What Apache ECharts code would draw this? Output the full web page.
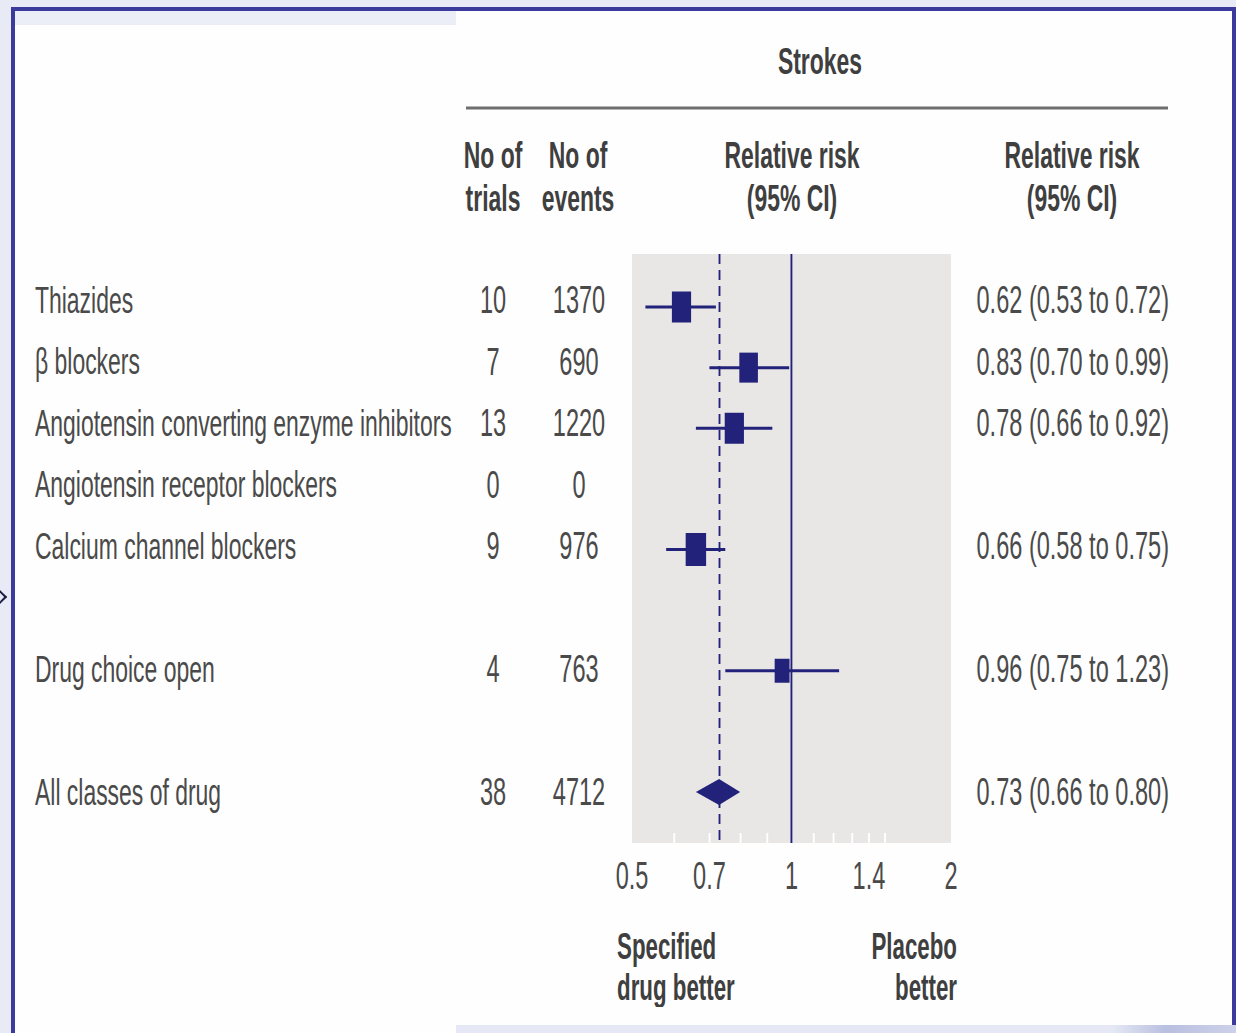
<!DOCTYPE html>
<html>
<head>
<meta charset="utf-8">
<title>Strokes – relative risk by drug class</title>
<script src="https://cdn.jsdelivr.net/npm/echarts@6/dist/echarts.min.js"></script>
<style>
  html, body { margin: 0; padding: 0; width: 1236px; height: 1033px; overflow: hidden; background: #e8eaf5; }
  #sheet { position: absolute; left: 15px; top: 11px; width: 1217px; height: 1022px; background: #fefefe; }
  #bandTop { position: absolute; left: 15px; top: 11px; width: 441px; height: 14px; background: #eceef7; }
  #bandBottom { position: absolute; left: 456px; top: 1025px; width: 780px; height: 8px;
    background: linear-gradient(90deg, #e6e9f5 0%, #e6e9f5 84%, #b9bfe0 91%, #cdd1ea 100%); }
  .rim { position: absolute; background: #3b3b9e; }
  #chevron { position: absolute; left: -5px; top: 592px; width: 8px; height: 8px;
    border-top: 2px solid #1c1c44; border-right: 2px solid #1c1c44; transform: rotate(45deg); }
  #chart { position: absolute; left: 0; top: 0; height: 1033px; transform-origin: 0 0; }
</style>
</head>
<body>
<div id="sheet"></div>
<div id="bandTop"></div>
<div id="bandBottom"></div>
<div class="rim" style="left:11px; top:7px; width:1225px; height:4px;"></div>
<div class="rim" style="left:11px; top:7px; width:4px; height:1026px;"></div>
<div class="rim" style="left:1232px; top:7px; width:4px; height:1018px;"></div>
<div id="chevron"></div>
<div id="chart"></div>
<script>
// ---- data ----
const drugClasses = [
  'Thiazides',
  'β blockers',
  'Angiotensin converting enzyme inhibitors',
  'Angiotensin receptor blockers',
  'Calcium channel blockers',
  'Drug choice open',
  'All classes of drug'
];
const trials = [10, 7, 13, 0, 9, 4, 38];
const events = [1370, 690, 1220, 0, 976, 763, 4712];
const relRisk = [0.62, 0.83, 0.78, null, 0.66, 0.96, 0.73];
const ciLow   = [0.53, 0.70, 0.66, null, 0.58, 0.75, 0.66];
const ciHigh  = [0.72, 0.99, 0.92, null, 0.75, 1.23, 0.80];
const axisTickLabels = [0.5, 0.7, 1, 1.4, 2];
const minorTicks = [0.6, 0.7, 0.8, 0.9, 1.1, 1.2, 1.3, 1.4, 1.5];

// ---- layout and style ----
// The drawing is laid out wide and squeezed horizontally by S, giving the condensed look.
const S = 0.62;
const W = 1236 / S;
const px = v => v / S;

const rowSlot = [0, 1, 2, 3, 4, 6, 8];          // vertical slot of each row
const boxSize = [31, 30, 31, null, 33, 24, null]; // study square sizes
const pooledIdx = drugClasses.length - 1;
const PLOT = { left: 632, right: 951, top: 254, bottom: 843 };
const TEXT_ROW = { first: 300, step: 61.5 };
const MARK_ROW = { first: 307, step: 60.625 };

const NAVY = '#22227a';
const PANEL = '#e9e7e6';
const INK = '#4a4a4a';
const INK_BOLD = '#3f3f3f';
const FONT = '"Liberation Sans", Arial, sans-serif';

function slotRange(r) {
  const h = PLOT.bottom - PLOT.top;
  const min = -(r.first - PLOT.top) / r.step;
  return { min, max: min + h / r.step };
}
const textRange = slotRange(TEXT_ROW);
const markRange = slotRange(MARK_ROW);

const fmt2 = v => v.toFixed(2);
const rowOf = v => rowSlot.indexOf(Math.round(v));

function textColumn(position, margin, align, fontSize, text) {
  return {
    type: 'value', inverse: true, position,
    min: textRange.min, max: textRange.max,
    axisLine: { show: false }, axisTick: { show: false }, splitLine: { show: false },
    axisLabel: {
      customValues: rowSlot, margin: px(margin), align,
      color: INK, fontFamily: FONT, fontSize,
      formatter: v => { const i = rowOf(v); return i < 0 ? '' : text(i); }
    }
  };
}

function heading(text, x, y, align, size) {
  return {
    type: 'text', x: px(x), y, silent: true,
    style: {
      text, x: 0, y: 0, fill: INK_BOLD,
      font: 'bold ' + (size || 37) + 'px ' + FONT,
      align: align || 'center', textAlign: align || 'center',
      verticalAlign: 'middle', textVerticalAlign: 'middle'
    }
  };
}

const studyRows = relRisk.map((v, i) => i).filter(i => relRisk[i] != null && i !== pooledIdx);

const el = document.getElementById('chart');
el.style.width = W + 'px';
el.style.transform = 'scaleX(' + S + ')';
const chart = echarts.init(el, null, { renderer: 'svg', width: W, height: 1033 });

chart.setOption({
  animation: false,
  grid: {
    left: px(PLOT.left), top: PLOT.top,
    width: px(PLOT.right - PLOT.left), height: PLOT.bottom - PLOT.top,
    show: true, backgroundColor: PANEL, borderWidth: 0,
    containLabel: false, outerBoundsMode: 'none'
  },
  xAxis: {
    type: 'log', logBase: 10, min: 0.5, max: 2, position: 'bottom',
    axisLine: { show: false, onZero: false },
    splitLine: { show: false },
    axisTick: { show: true, inside: true, length: 10, customValues: minorTicks,
      lineStyle: { color: '#ffffff', width: 3 } },
    axisLabel: { customValues: axisTickLabels, margin: 14, color: INK,
      fontFamily: FONT, fontSize: 38, formatter: v => String(+(+v).toFixed(2)) }
  },
  yAxis: [
    { // rows for the plotted marks
      type: 'value', inverse: true, position: 'left', show: false,
      min: markRange.min, max: markRange.max
    },
    textColumn('left', PLOT.left - 35, 'left', 37, i => drugClasses[i]),
    textColumn('left', PLOT.left - 493, 'center', 38, i => String(trials[i])),
    textColumn('left', PLOT.left - 579, 'center', 38, i => String(events[i])),
    textColumn('right', 1169 - PLOT.right, 'right', 38,
      i => relRisk[i] == null ? '' : fmt2(relRisk[i]) + ' (' + fmt2(ciLow[i]) + ' to ' + fmt2(ciHigh[i]) + ')')
  ],
  series: [
    { // reference lines: no effect, and pooled estimate
      type: 'line', xAxisIndex: 0, yAxisIndex: 0, data: [], z: 1, silent: true,
      markLine: {
        silent: true, symbol: ['none', 'none'], label: { show: false },
        emphasis: { disabled: true },
        data: [
          { xAxis: 1, lineStyle: { type: 'solid', color: NAVY, width: 3 } },
          { xAxis: relRisk[pooledIdx], lineStyle: { type: [10, 6], color: NAVY, width: 3 } }
        ]
      }
    },
    { // individual drug classes: CI line and square
      type: 'custom', xAxisIndex: 0, yAxisIndex: 0, z: 3, silent: true,
      encode: { x: [0, 1, 2], y: 3 },
      data: studyRows.map(i => [relRisk[i], ciLow[i], ciHigh[i], rowSlot[i]]),
      renderItem(params, api) {
        const row = api.value(3);
        const lo = api.coord([api.value(1), row]);
        const hi = api.coord([api.value(2), row]);
        const c = api.coord([api.value(0), row]);
        const s = boxSize[studyRows[params.dataIndex]];
        return {
          type: 'group', children: [
            { type: 'line', shape: { x1: lo[0], y1: lo[1], x2: hi[0], y2: hi[1] },
              style: { stroke: NAVY, lineWidth: 3 } },
            { type: 'rect', shape: { x: c[0] - s / 2, y: c[1] - s / 2, width: s, height: s },
              style: { fill: NAVY } }
          ]
        };
      }
    },
    { // pooled estimate: diamond
      type: 'custom', xAxisIndex: 0, yAxisIndex: 0, z: 3, silent: true,
      encode: { x: [0, 1, 2], y: 3 },
      data: [[relRisk[pooledIdx], ciLow[pooledIdx], ciHigh[pooledIdx], rowSlot[pooledIdx]]],
      renderItem(params, api) {
        const row = api.value(3);
        const lo = api.coord([api.value(1), row]);
        const hi = api.coord([api.value(2), row]);
        const c = api.coord([api.value(0), row]);
        const h = 13;
        return {
          type: 'polygon',
          shape: { points: [[lo[0], c[1]], [c[0], c[1] - h], [hi[0], c[1]], [c[0], c[1] + h]] },
          style: { fill: NAVY }
        };
      }
    }
  ],
  graphic: [
    heading('Strokes', 820, 61),
    { type: 'line', silent: true,
      shape: { x1: px(466), y1: 108, x2: px(1168), y2: 108 },
      style: { stroke: '#6e6e6e', lineWidth: 3 } },
    heading('No of', 493, 155),
    heading('trials', 493, 198),
    heading('No of', 578, 155),
    heading('events', 578, 198),
    heading('Relative risk', 792, 155),
    heading('(95% CI)', 792, 198),
    heading('Relative risk', 1072, 155),
    heading('(95% CI)', 1072, 198),
    heading('Specified', 617, 946, 'left', 36),
    heading('drug better', 617, 987, 'left', 36),
    heading('Placebo', 957, 946, 'right', 36),
    heading('better', 957, 987, 'right', 36)
  ]
});
</script>
</body>
</html>
